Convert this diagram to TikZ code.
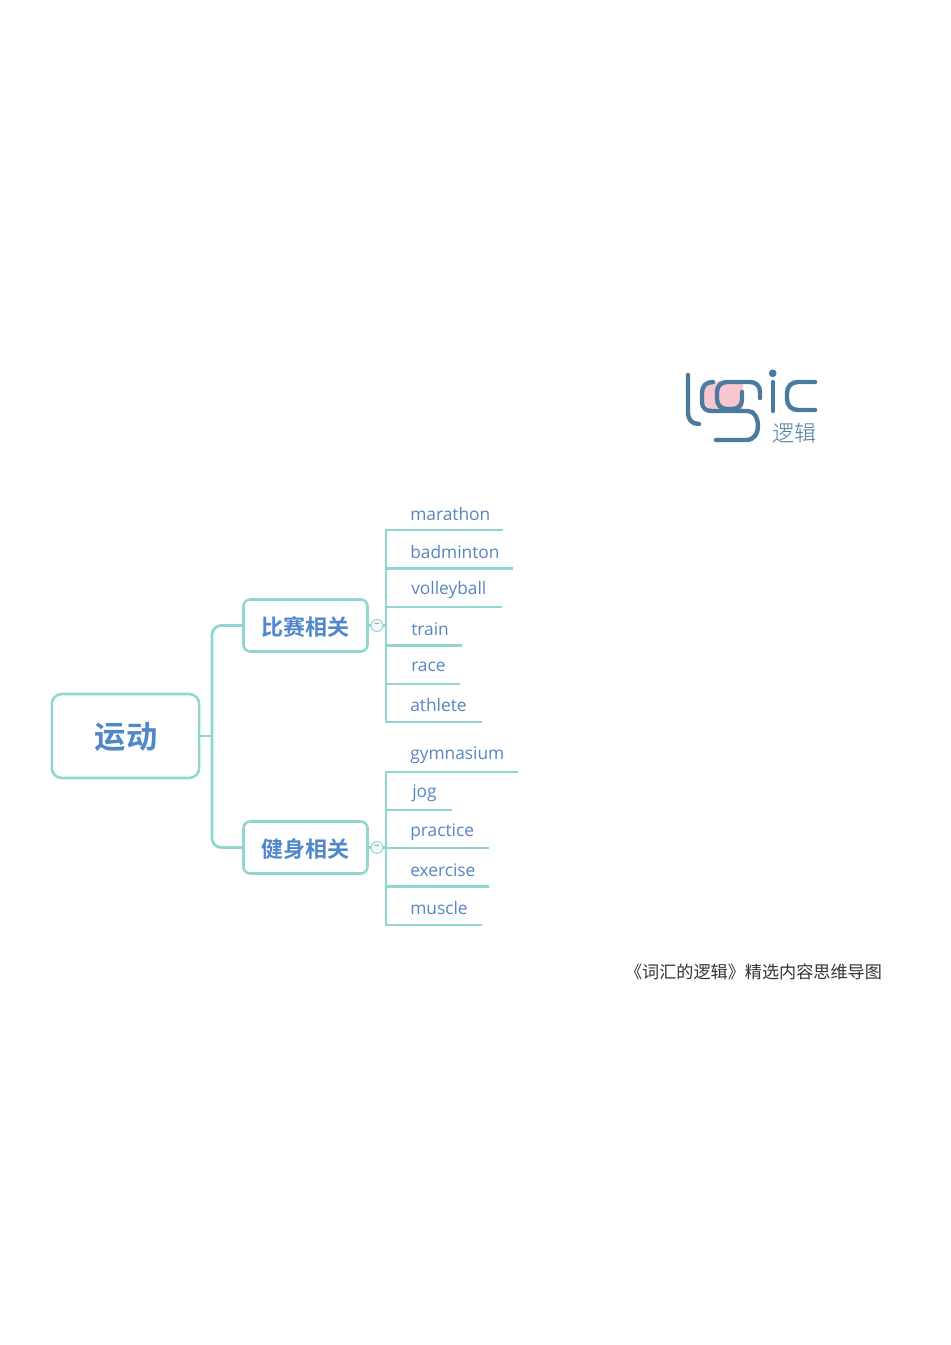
\documentclass[tikz,border=0pt]{standalone}
\usepackage{fontspec}
\setmainfont{Open Sans}
\newfontfamily\cjk{Noto Sans CJK SC}
\newfontfamily\cjkbold{Noto Sans CJK SC Bold}
\newfontfamily\cjklight{Noto Sans CJK SC Light}
\usepackage{xcolor}
\usetikzlibrary{positioning}
\definecolor{mapline}{HTML}{8FD6D1}
\definecolor{maptext}{HTML}{4F86CC}
\definecolor{logoblue}{HTML}{4A7A9E}
\definecolor{logopink}{HTML}{F7C6CF}
\tikzset{
    rootbox/.style={draw=mapline,line width=1.9pt,rounded corners=7.5pt,minimum width=110.5pt,minimum height=63pt,text height=22pt,text depth=2.6pt,text=maptext,font=\cjkbold\fontsize{23.5}{23.5}\selectfont},
    topicbox/.style={draw=mapline,line width=1.9pt,rounded corners=5pt,minimum width=93pt,minimum height=39pt,text height=16pt,text depth=1.5pt,text=maptext,font=\cjkbold\fontsize{16.5}{16.5}\selectfont},
    leaf/.style={anchor=base west,inner sep=0pt,text=maptext!85!gray,font=\fontsize{13}{13}\selectfont},
    branch/.style={draw=mapline,line width=2.1pt,rounded corners=7pt},
    twig/.style={draw=mapline,line width=2.1pt},
    fold/.style={circle,draw=mapline,line width=0.7pt,fill=mapline!12,minimum size=9pt,inner sep=0pt,text=gray,font=\fontsize{8}{8}\selectfont},
    logoline/.style={draw=logoblue,line width=3.3pt,line cap=round},
}
\begin{document}
\begin{tikzpicture}[x=0.75pt,y=-0.75pt]
    \useasboundingbox (0,0) rectangle (950,1345);

    % logo
    \fill[logopink] (722,381) -- (743,381) -- (743,410) -- (716,410) .. controls (708,410) and (703,404) .. (703,396) .. controls (703,388) and (710,381) .. (722,381) -- cycle;
    \draw[logoline] (688,375) -- (688,412) .. controls (688,420) and (692,424) .. (699,424);
    \draw[logoline] (713,382) .. controls (706,382) and (702,386) .. (702,393) -- (702,402) .. controls (702,408) and (706,411) .. (712,411) -- (748,411) .. controls (754,411) and (758,418) .. (758,425) .. controls (758,434) and (754,440) .. (746,440) -- (716,440);
    \draw[logoline] (742,392) -- (742,400) .. controls (742,406) and (737,409) .. (732,409) -- (727,409) .. controls (721,409) and (717,405) .. (717,399) -- (717,392) .. controls (717,386) and (721,382) .. (727,382) -- (750,382) .. controls (756,382) and (760,386) .. (760,392) -- (760,398);
    \fill[logoblue] (772.7,373.3) circle (2.9pt);
    \draw[logoline] (772.7,382) -- (772.7,411);
    \draw[logoline] (815,382) -- (798,382) .. controls (791,382) and (787,387) .. (787,393) -- (787,399) .. controls (787,405) and (791,410) .. (798,410) -- (815,410);
    \node[inner sep=0pt,text=logoblue,font=\cjklight\fontsize{16.5}{16.5}\selectfont] (logotext) at (794.5,433.5) {逻辑};

    % topics
    \node[rootbox] (sport) at (125.5,736) {\hspace{1pt}运动};
    \node[topicbox] (contest) at (305.5,625.5) {比赛相关};
    \node[topicbox] (fitness) at (305.5,847.5) {健身相关};
    \coordinate (trunk) at (212,736);
    \draw[twig] (sport.east) -- (trunk);
    \draw[branch] (trunk) |- (contest.west);
    \draw[branch] (trunk) |- (fitness.west);

    % contest words
    \node[leaf] (marathon) at (410,520) {marathon};
    \node[leaf] (badminton) at (410,558) {badminton};
    \node[leaf] (volleyball) at (411,594.5) {volleyball};
    \node[leaf] (train) at (411,635) {train};
    \node[leaf] (race) at (411,671) {race};
    \node[leaf] (athlete) at (410,711) {athlete};
    \coordinate (m1) at (386,530);
    \coordinate (m2) at (386,568.5);
    \coordinate (m3) at (386,607);
    \coordinate (m4) at (386,645.5);
    \coordinate (m5) at (386,684);
    \coordinate (m6) at (386,722);
    \coordinate (cfork) at (386,625.5);
    \draw[twig] (m1) -- ++(117,0);
    \draw[twig] (m2) -- ++(127,0);
    \draw[twig] (m3) -- ++(116,0);
    \draw[twig] (m4) -- ++(76,0);
    \draw[twig] (m5) -- ++(74,0);
    \draw[twig,line cap=rect] (m6) -- ++(95,0);
    \draw[twig,line cap=rect] (m1) -- (m6);
    \draw[twig] (contest.east) -- (cfork);
    \node[fold] (cfold) at (377,625.5) {−};

    % fitness words
    \node[leaf] (gymnasium) at (410,759) {gymnasium};
    \node[leaf] (jog) at (412,797.5) {jog};
    \node[leaf] (practice) at (410,836) {practice};
    \node[leaf] (exercise) at (410,876) {exercise};
    \node[leaf] (muscle) at (410,914.5) {muscle};
    \coordinate (f1) at (386,772);
    \coordinate (f2) at (386,810);
    \coordinate (f3) at (386,848);
    \coordinate (f4) at (386,886.5);
    \coordinate (f5) at (386,925);
    \coordinate (ffork) at (386,847.5);
    \draw[twig] (f1) -- ++(132,0);
    \draw[twig] (f2) -- ++(66,0);
    \draw[twig] (f3) -- ++(103,0);
    \draw[twig] (f4) -- ++(103,0);
    \draw[twig,line cap=rect] (f5) -- ++(95,0);
    \draw[twig,line cap=rect] (f1) -- (f5);
    \draw[twig] (fitness.east) -- (ffork);
    \node[fold] (ffold) at (377,847.5) {−};

    \node[inner sep=0pt,text=black!80,font=\cjk\fontsize{12.85}{12.85}\selectfont] (caption) at (753.5,972) {《词汇的逻辑》精选内容思维导图};
\end{tikzpicture}
\end{document}
